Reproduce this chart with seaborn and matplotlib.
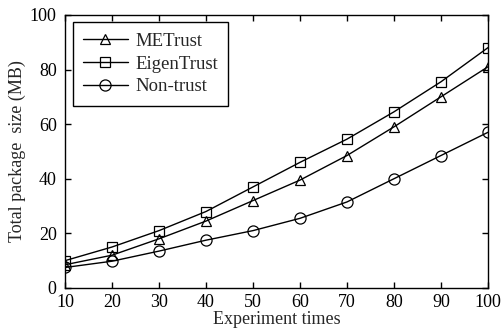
import matplotlib
matplotlib.use('Agg')
import matplotlib.pyplot as plt
import numpy as np
import pandas as pd
import seaborn as sns

# values
times = [10, 20, 30, 40, 50, 60, 70, 80, 90, 100]
metrust = [8.5, 12, 18, 24.5, 32, 39.5, 48.5, 59, 70, 81]
eigentrust = [10, 15, 21, 28, 37, 46, 54.5, 64.5, 75.5, 88]
nontrust = [7.5, 9.8, 13.5, 17.5, 21, 25.5, 31.5, 40, 48.5, 57]

df = pd.DataFrame({'times': times * 3,
                   'size': metrust + eigentrust + nontrust,
                   'method': ['METrust'] * 10 + ['EigenTrust'] * 10 + ['Non-trust'] * 10})

sns.set_style('ticks')
plt.rcParams['font.family'] = ['Liberation Serif', 'DejaVu Serif']

fig = plt.figure(figsize=(5.02, 3.31), dpi=100)
ax = fig.add_axes([0.1295, 0.13, 0.8425, 0.825])

markers = {'METrust': '^', 'EigenTrust': 's', 'Non-trust': 'o'}
sizes = {'METrust': 7.5, 'EigenTrust': 6.5, 'Non-trust': 8}
for m in ['METrust', 'EigenTrust', 'Non-trust']:
    sub = df[df['method'] == m]
    sns.lineplot(x='times', y='size', data=sub, ax=ax, color='black', lw=1,
                 marker=markers[m], markersize=sizes[m], markerfacecolor='none',
                 markeredgecolor='black', markeredgewidth=0.9, label=m)

ax.set_xlim(10, 100)
ax.set_ylim(0, 100)
ax.set_xticks(times)
ax.set_yticks([0, 20, 40, 60, 80, 100])
ax.tick_params(direction='in', top=True, right=True, length=4, width=1,
               labelsize=13, colors='black')
ax.tick_params(axis='x', pad=4)
ax.tick_params(axis='y', pad=6)
for s in ax.spines.values():
    s.set_visible(True)
    s.set_color('black')
    s.set_linewidth(1)
ax.set_xlabel('Experiment times', fontsize=13, labelpad=0)
ax.set_ylabel('Total package  size (MB)', fontsize=13, labelpad=3)

leg = ax.legend(loc='upper left', fontsize=13.5, frameon=True, fancybox=False,
                edgecolor='black', framealpha=1, handlelength=2.4,
                borderpad=0.55, labelspacing=0.3, handletextpad=0.4,
                borderaxespad=0.4, markerscale=1.0)
leg.get_frame().set_linewidth(1)

fig.savefig('out.png', dpi=100)
